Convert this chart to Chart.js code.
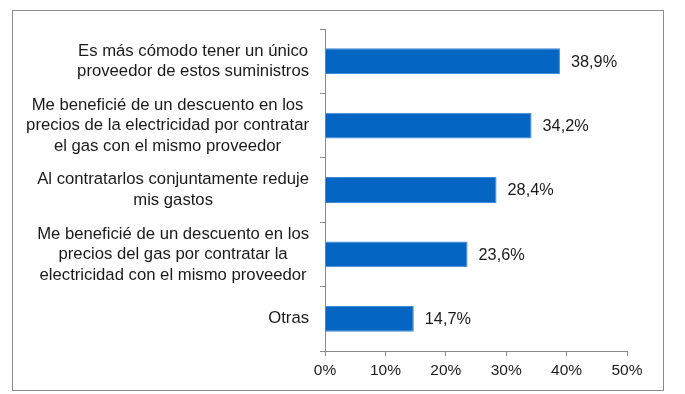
<!DOCTYPE html>
<html>
<head>
<meta charset="utf-8">
<script src="https://cdn.jsdelivr.net/npm/chart.js@4"></script>
<style>
  html, body { margin: 0; padding: 0; background: #fff; }
  #wrap { position: relative; width: 685px; height: 394px; }
  #frame { position: absolute; left: 12px; top: 10px; width: 650px; height: 379px; border: 1px solid #8a8a8a; }
  canvas { position: absolute; left: 0; top: 0; }
</style>
</head>
<body>
<div id="wrap">
  <div id="frame"></div>
  <canvas id="myChart" width="685" height="394"></canvas>
</div>
<script>
// Datos
const categorias = [
    ["Es más cómodo tener un único", "proveedor de estos suministros"],
    ["Me beneficié de un descuento en los", "precios de la electricidad por contratar", "el gas con el mismo proveedor"],
    ["Al contratarlos conjuntamente reduje", "mis gastos"],
    ["Me beneficié de un descuento en los", "precios del gas por contratar la", "electricidad con el mismo proveedor"],
    ["Otras"]
];
const valores = [38.9, 34.2, 28.4, 23.6, 14.7];
const ticksX = [0, 10, 20, 30, 40, 50];

const gris = "#8a8a8a";
const texto = "#1a1a1a";
const fuente = "Liberation Sans, Arial, sans-serif";

// Dibuja las etiquetas de categoria centradas linea a linea
const etiquetasPlugin = {
    id: "etiquetas",
    afterDraw(chart) {
        const c = chart.ctx;
        const y = chart.scales.y;
        c.save();
        c.fillStyle = texto;
        c.textBaseline = "middle";
        c.textAlign = "center";
        c.font = "16.7px " + fuente;
        const derecha = y.right - 16;
        categorias.forEach((lineas, i) => {
            const yc = y.getPixelForTick(i);
            let ancho = 0;
            lineas.forEach(l => { ancho = Math.max(ancho, c.measureText(l).width); });
            const xc = derecha - ancho / 2;
            const alto = 20.5;
            lineas.forEach((l, j) => {
                c.fillText(l, xc, yc + (j - (lineas.length - 1) / 2) * alto);
            });
        });
        // valores al final de las barras
        c.textAlign = "left";
        c.font = "16.3px " + fuente;
        const meta = chart.getDatasetMeta(0);
        meta.data.forEach((bar, i) => {
            c.fillText(valores[i].toFixed(1).replace(".", ",") + "%", bar.x + 11, bar.y + 1);
        });
        c.restore();
    }
};

let ctx = document.getElementById("myChart");
let myChart = new Chart(ctx, {
    type: "bar",
    data: {
        labels: categorias.map(l => l.join(" ")),
        datasets: [{
            data: valores,
            backgroundColor: "#0565c2",
            borderColor: "#3f8ad6",
            borderWidth: 1,
            barPercentage: 0.4,
            categoryPercentage: 1
        }]
    },
    options: {
        indexAxis: "y",
        responsive: false,
        animation: false,
        layout: { padding: { top: 29, right: 58, bottom: 0, left: 0 } },
        plugins: {
            legend: { display: false },
            tooltip: { enabled: false }
        },
        scales: {
            x: {
                min: 0,
                max: 50,
                afterBuildTicks: s => { s.ticks = ticksX.map(v => ({ value: v })); },
                afterFit: s => { s.height = 43; },
                border: { color: gris, width: 1 },
                grid: { drawOnChartArea: false, drawTicks: true, tickLength: 5, color: gris },
                ticks: {
                    padding: 5,
                    color: texto,
                    font: { family: fuente, size: 15.5 },
                    callback: v => v + "%"
                }
            },
            y: {
                afterFit: s => { s.width = 325; },
                border: { color: gris, width: 1 },
                grid: { offset: true, drawOnChartArea: false, drawTicks: true, tickLength: 5, color: gris },
                ticks: { display: false }
            }
        }
    },
    plugins: [etiquetasPlugin]
});
</script>
</body>
</html>
